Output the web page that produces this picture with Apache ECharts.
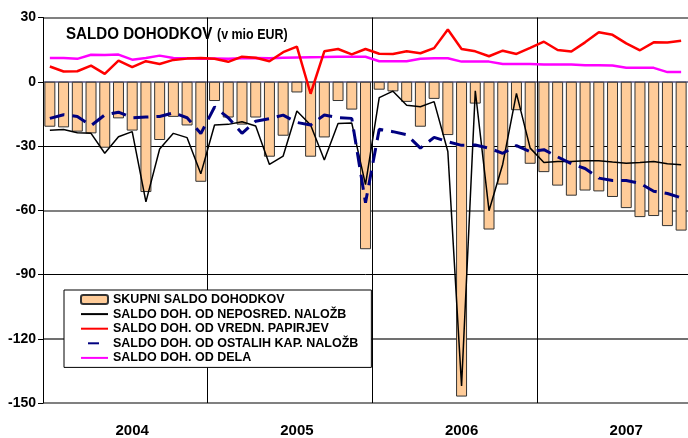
<!DOCTYPE html>
<html>
<head>
<meta charset="utf-8">
<script src="https://cdn.jsdelivr.net/npm/echarts@6/dist/echarts.min.js"></script>
<style>
html, body { margin: 0; padding: 0; background: #fff; }
#chart { width: 688px; height: 438px; }
</style>
</head>
<body>
<div id="chart"></div>
<script>
// mesečni podatki 2004-01 .. 2007-11 (v mio EUR)
var months = [
  '2004-01','2004-02','2004-03','2004-04','2004-05','2004-06','2004-07','2004-08','2004-09','2004-10','2004-11','2004-12',
  '2005-01','2005-02','2005-03','2005-04','2005-05','2005-06','2005-07','2005-08','2005-09','2005-10','2005-11','2005-12',
  '2006-01','2006-02','2006-03','2006-04','2006-05','2006-06','2006-07','2006-08','2006-09','2006-10','2006-11','2006-12',
  '2007-01','2007-02','2007-03','2007-04','2007-05','2007-06','2007-07','2007-08','2007-09','2007-10','2007-11'
];

var skupni = [
  -21.0, -21.3, -23.3, -24.1, -30.8, -17.1, -22.8, -51.5, -27.2, -16.4, -20.4, -46.7,
  -9.0, -16.7, -20.0, -16.7, -35.0, -25.2, -5.0, -35.0, -26.0, -9.0, -13.0, -78.2,
  -3.7, -4.5, -9.4, -21.0, -8.0, -24.9, -147.0, -10.2, -69.0, -48.0, -13.3, -38.3,
  -42.2, -48.5, -53.2, -50.8, -51.2, -53.8, -59.0, -63.2, -62.7, -67.4, -69.5
];

var neposred = [
  -22.6, -22.3, -23.8, -24.1, -33.4, -25.7, -23.3, -56.1, -31.4, -24.1, -26.1, -43.0,
  -20.2, -19.9, -18.7, -20.7, -38.6, -34.7, -13.7, -20.2, -36.5, -19.5, -19.3, -48.0,
  -7.4, -4.4, -11.0, -11.7, -9.3, -32.6, -142.0, -4.2, -60.2, -38.5, -5.4, -31.0,
  -37.7, -37.2, -37.2, -36.9, -36.9, -37.5, -38.0, -37.7, -37.2, -38.3, -38.7
];

var papirji = [
  7.1, 4.8, 4.9, 7.5, 3.7, 9.9, 6.8, 9.6, 8.3, 10.2, 10.8, 11.1,
  10.7, 9.3, 11.7, 11.2, 9.6, 13.8, 16.4, -5.6, 14.2, 15.3, 12.8, 15.3,
  13.1, 13.0, 14.2, 13.3, 15.7, 24.4, 15.3, 14.2, 11.9, 14.5, 13.0, 15.8,
  18.7, 14.8, 14.1, 18.4, 23.1, 21.9, 17.9, 14.7, 18.4, 18.3, 19.1
];

var ostaleKap = [
  -17.1, -15.4, -16.2, -20.5, -15.5, -14.2, -16.8, -16.5, -16.2, -14.5, -16.8, -24.2,
  -11.8, -16.8, -24.1, -18.4, -17.2, -15.6, -19.0, -20.2, -15.5, -16.7, -17.1, -56.5,
  -22.2, -23.3, -24.7, -31.0, -26.0, -28.0, -29.7, -29.5, -31.0, -33.4, -29.8, -32.6,
  -31.7, -35.1, -38.3, -40.5, -45.0, -46.1, -46.1, -47.4, -51.1, -52.2, -54.2
];

var dela = [
  11.1, 11.1, 10.7, 12.6, 12.5, 12.7, 10.3, 11.1, 12.2, 11.1, 11.0, 10.7,
  10.8, 10.7, 11.0, 11.1, 11.0, 11.2, 11.3, 11.4, 11.5, 11.7, 11.7, 11.7,
  9.6, 9.6, 9.6, 10.7, 11.0, 11.0, 9.4, 9.4, 9.4, 8.3, 8.3, 8.3,
  8.0, 8.0, 8.0, 7.7, 7.7, 7.6, 6.5, 6.5, 6.5, 4.5, 4.5
];

var yMin = -150, yMax = 30, yStep = 30;

var font = 'Liberation Sans, Arial, sans-serif';
var chart = echarts.init(document.getElementById('chart'));

// brez krogca v legendi pri črtah
var noSymbol = { color: 'transparent', borderColor: 'transparent', borderWidth: 0 };

var options = {
  animation: false,
  backgroundColor: '#fff',
  // naslov - malo stisnjen po širini kot v excelu
  graphic: [
    {
      type: 'text', x: 66, y: 34, scaleX: 0.89, z: 10,
      style: { text: 'SALDO DOHODKOV', font: 'bold 17px ' + font, fill: '#000', verticalAlign: 'middle' }
    },
    {
      type: 'text', x: 217, y: 35, scaleX: 0.89, z: 10,
      style: { text: '(v mio EUR)', font: 'bold 14px ' + font, fill: '#000', verticalAlign: 'middle' }
    }
  ],
  legend: {
    orient: 'vertical',
    left: 64,
    top: 290,
    padding: [3, 13, 3, 16],
    itemGap: 1.6,
    itemWidth: 27,
    itemHeight: 9,
    backgroundColor: '#fff',
    borderColor: '#000',
    borderWidth: 1,
    borderRadius: 0,
    textStyle: { fontFamily: font, fontSize: 12.5, fontWeight: 'bold', color: '#000', lineHeight: 12 },
    data: [
      { name: 'SKUPNI SALDO DOHODKOV' },
      { name: 'SALDO DOH. OD NEPOSRED. NALOŽB', itemStyle: noSymbol },
      { name: 'SALDO DOH. OD VREDN. PAPIRJEV', itemStyle: noSymbol },
      { name: 'SALDO DOH. OD OSTALIH KAP. NALOŽB', itemStyle: noSymbol,
        lineStyle: { type: [11, 16], dashOffset: 20 } },
      { name: 'SALDO DOH. OD DELA', itemStyle: noSymbol }
    ]
  },
  grid: { left: 43, right: -3, top: 17.5, bottom: 34 },
  xAxis: {
    type: 'category',
    data: months,
    boundaryGap: true,
    axisLine: { show: false },
    axisTick: { show: false },
    axisLabel: {
      interval: function (i) { return i % 12 === 6; },
      formatter: function (v) { return v.slice(0, 4); },
      fontFamily: font, fontSize: 15, fontWeight: 'bold', color: '#000',
      margin: 20
    },
    splitLine: {
      show: true,
      interval: function (i) { return i % 12 === 0 && i > 0; },
      lineStyle: { color: '#000', width: 1 }
    }
  },
  yAxis: [
    {
      type: 'value',
      min: yMin, max: yMax, interval: yStep,
      axisLine: { show: true, lineStyle: { color: '#000', width: 1 } },
      axisTick: { show: true, length: 5, lineStyle: { color: '#000' } },
      axisLabel: { fontFamily: font, fontSize: 14, fontWeight: 'bold', color: '#000', margin: 7 },
      splitLine: {
        lineStyle: {
          width: 1,
          color: ['transparent', 'transparent', '#000', 'transparent', '#000', 'transparent', 'transparent']
        }
      }
    },
    {
      // siva (debelejša) mrežna črta
      type: 'value',
      min: yMin, max: yMax, interval: yStep,
      position: 'left',
      axisLine: { show: false },
      axisTick: { show: false },
      axisLabel: { show: false },
      splitLine: {
        lineStyle: {
          width: 2,
          color: ['#808080', '#707070', 'transparent', '#808080', 'transparent', '#8080a4', '#808080']
        }
      }
    }
  ],
  series: [
    {
      name: 'SKUPNI SALDO DOHODKOV',
      type: 'bar',
      data: skupni,
      barCategoryGap: '20%',
      itemStyle: { color: '#ffcc99', borderColor: '#333', borderWidth: 1 }
    },
    {
      name: 'SALDO DOH. OD NEPOSRED. NALOŽB',
      type: 'line',
      data: neposred,
      symbol: 'none',
      lineStyle: { color: '#000', width: 1.5 },
      itemStyle: { color: '#000' }
    },
    {
      name: 'SALDO DOH. OD DELA',
      type: 'line',
      data: dela,
      symbol: 'none',
      lineStyle: { color: '#ff00ff', width: 2.5 },
      itemStyle: { color: '#ff00ff' }
    },
    {
      name: 'SALDO DOH. OD VREDN. PAPIRJEV',
      type: 'line',
      data: papirji,
      symbol: 'none',
      lineStyle: { color: '#ff0000', width: 2.5 },
      itemStyle: { color: '#ff0000' }
    },
    {
      name: 'SALDO DOH. OD OSTALIH KAP. NALOŽB',
      type: 'line',
      data: ostaleKap,
      symbol: 'none',
      lineStyle: { color: '#000080', width: 3, type: [15, 8] },
      itemStyle: { color: '#000080' }
    }
  ]
};

chart.setOption(options);
</script>
</body>
</html>
